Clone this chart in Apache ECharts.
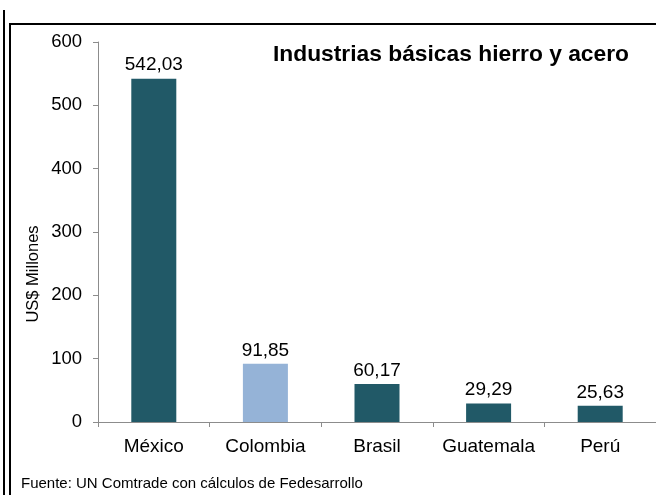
<!DOCTYPE html>
<html>
<head>
<meta charset="utf-8">
<script src="https://cdn.jsdelivr.net/npm/echarts@6/dist/echarts.min.js"></script>
<style>
  html, body { margin: 0; padding: 0; background: #fff; }
  #chart { width: 656px; height: 495px; }
</style>
</head>
<body>
<div id="chart"></div>
<script>
// Exportaciones de industrias básicas de hierro y acero (US$ millones)
const paises = ['México', 'Colombia', 'Brasil', 'Guatemala', 'Perú'];
const valores = [542.03, 91.85, 60.17, 29.29, 25.63];
const destacado = 'Colombia';
const ticksY = [0, 100, 200, 300, 400, 500, 600];

const titulo = 'Industrias básicas hierro y acero';
const nombreEjeY = 'US$ Millones';
const fuente = 'Fuente: UN Comtrade con cálculos de Fedesarrollo';

const FONT = '"Liberation Sans", Arial, sans-serif';
const OSCURO = '#215967';
const CLARO = '#95B3D7';

const fmt = v => v.toFixed(2).replace('.', ',');

const chart = echarts.init(document.getElementById('chart'), null, { renderer: 'canvas' });

chart.setOption({
  animation: false,
  backgroundColor: '#fff',
  textStyle: { fontFamily: FONT },
  title: {
    text: titulo,
    right: 22,
    top: 38,
    textStyle: { fontFamily: FONT, fontSize: 22.8, fontWeight: 'bold', color: '#000' }
  },
  grid: { left: 98, right: -2, top: 42, bottom: 73, containLabel: false },
  xAxis: {
    type: 'category',
    data: paises,
    axisLine: { lineStyle: { color: '#8c8c8c', width: 1 } },
    axisTick: { show: true, interval: 0, length: 5, lineStyle: { color: '#8c8c8c' } },
    axisLabel: { interval: 0, fontFamily: FONT, fontSize: 19, color: '#000', margin: 15 }
  },
  yAxis: {
    type: 'value',
    min: ticksY[0],
    max: ticksY[ticksY.length - 1],
    interval: ticksY[1] - ticksY[0],
    axisLine: { show: true, lineStyle: { color: '#8c8c8c', width: 1 } },
    axisTick: { show: true, length: 5, lineStyle: { color: '#8c8c8c' } },
    splitLine: { show: false },
    axisLabel: { fontFamily: FONT, fontSize: 18.5, color: '#000', margin: 16 }
  },
  series: [{
    type: 'bar',
    barWidth: 45,
    data: paises.map((p, i) => ({
      value: valores[i],
      itemStyle: { color: p === destacado ? CLARO : OSCURO }
    })),
    label: {
      show: true,
      position: 'top',
      distance: 4,
      fontFamily: FONT,
      fontSize: 19,
      color: '#000',
      formatter: p => fmt(p.value)
    }
  }],
  graphic: [
    // marco exterior izquierdo
    { type: 'line', shape: { x1: 4, y1: 10, x2: 4, y2: 495 }, style: { stroke: '#000', lineWidth: 2 } },
    // marco interior
    { type: 'line', shape: { x1: 10, y1: 24, x2: 10, y2: 495 }, style: { stroke: '#000', lineWidth: 2 } },
    { type: 'line', shape: { x1: 9, y1: 24, x2: 656, y2: 24 }, style: { stroke: '#000', lineWidth: 2 } },
    // título del eje vertical
    {
      type: 'text', x: 33, y: 274, rotation: Math.PI / 2,
      style: { text: nombreEjeY, font: '16.5px ' + FONT, fill: '#000', align: 'center', verticalAlign: 'middle' }
    },
    {
      type: 'text', left: 21, top: 476,
      style: { text: fuente, font: '15px ' + FONT, fill: '#000' }
    }
  ]
});
</script>
</body>
</html>
